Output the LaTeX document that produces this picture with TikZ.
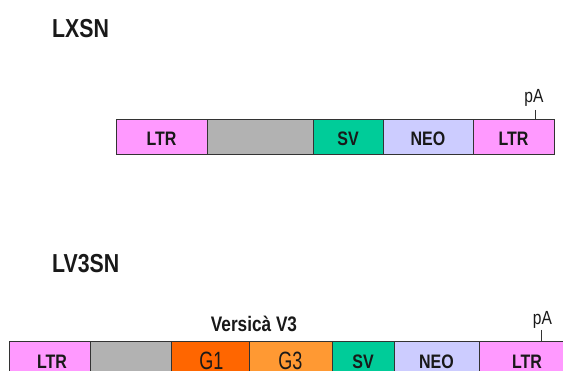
\documentclass[tikz,border=0pt]{standalone}
\usepackage{fontspec}
\setmainfont{Liberation Sans}[FakeStretch=0.82]
\newfontfamily\gfont{Liberation Sans}[FakeStretch=0.72]
\definecolor{ltrpink}{HTML}{FF99FF}
\definecolor{segray}{HTML}{B2B2B2}
\definecolor{svgreen}{HTML}{00CC99}
\definecolor{neoblue}{HTML}{CCCCFF}
\definecolor{gone}{HTML}{FF6600}
\definecolor{gthree}{HTML}{FF9933}
\definecolor{edge}{HTML}{333333}
\tikzset{
  seg/.style={draw=edge, line width=0.8pt, rectangle, inner sep=0pt, minimum height=35pt},
  title/.style={inner sep=0pt, anchor=base west, font=\fontsize{26}{30}\selectfont\bfseries, text=black!90},
  lbl/.style={inner sep=0pt, anchor=base, font=\fontsize{19.5}{22}\selectfont\bfseries, text=black!90},
  glbl/.style={inner sep=0pt, anchor=base, font=\gfont\fontsize{25}{28}\selectfont, text=black!90},
  palbl/.style={inner sep=0pt, anchor=base, font=\fontsize{19}{22}\selectfont, text=black!90},
  vlbl/.style={inner sep=0pt, anchor=base, font=\fontsize{21}{25}\selectfont\bfseries, text=black!90},
  tick/.style={draw=edge, line width=0.8pt}
}
\begin{document}
\begin{tikzpicture}[x=1pt,y=-1pt]
\clip (0,0) rectangle (563,371);
\fill[white] (0,0) rectangle (563,371);
% ---------- LXSN ----------
\node[title] (t1) at (52,38) {LXSN};
\node[seg, fill=ltrpink, minimum width=91pt] (a1) at (161.5,136.5) {};
\node[seg, fill=segray, minimum width=106pt] (a2) at (260,136.5) {};
\node[seg, fill=svgreen, minimum width=70pt] (a3) at (348,136.5) {};
\node[seg, fill=neoblue, minimum width=90pt] (a4) at (428,136.5) {};
\node[seg, fill=ltrpink, minimum width=81pt] (a5) at (513.5,136.5) {};
\node[lbl] (la1) at (161.5,146) {LTR};
\node[lbl] (la3) at (348,146) {SV};
\node[lbl] (la4) at (428,146) {NEO};
\node[lbl] (la5) at (513.5,146) {LTR};
\node[palbl] (pa1) at (534,103) {pA};
\coordinate (k1) at (535,110);
\draw[tick] (k1) -- (k1 |- a5.north);
% ---------- LV3SN ----------
\node[title] (t2) at (52,273) {LV3SN};
\node[seg, fill=ltrpink, minimum width=81.5pt] (b1) at (49.75,358.5) {};
\node[seg, fill=segray, minimum width=81.2pt] (b2) at (131.1,358.5) {};
\node[seg, fill=gone, minimum width=77.3pt] (b3) at (210.35,358.5) {};
\node[seg, fill=gthree, minimum width=83pt] (b4) at (290.5,358.5) {};
\node[seg, fill=svgreen, minimum width=62pt] (b5) at (363,358.5) {};
\node[seg, fill=neoblue, minimum width=85pt] (b6) at (436.5,358.5) {};
\node[seg, fill=ltrpink, minimum width=86pt] (b7) at (522,358.5) {};
\node[lbl] (lb1) at (52,368.5) {LTR};
\node[glbl] (lb3) at (211.5,370) {G1};
\node[glbl] (lb4) at (290.5,370) {G3};
\node[lbl] (lb5) at (363,368.5) {SV};
\node[lbl] (lb6) at (436.5,368.5) {NEO};
\node[lbl] (lb7) at (527,368.5) {LTR};
\node[vlbl] (vv) at (254,332) {Versicà V3};
\node[palbl] (pa2) at (542.5,325) {pA};
\coordinate (k2) at (541,330);
\draw[tick] (k2) -- (k2 |- b7.north);
\end{tikzpicture}
\end{document}
